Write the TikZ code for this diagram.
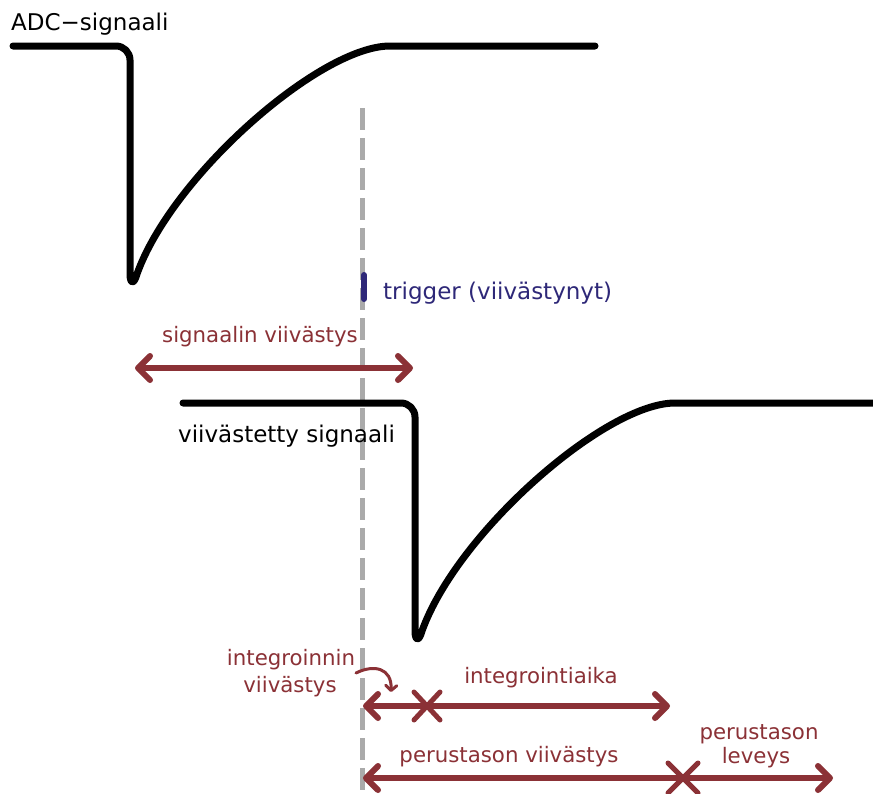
\documentclass[tikz,border=0pt]{standalone}
\usepackage{fontspec}
\setmainfont{DejaVu Sans}
\usetikzlibrary{arrows.meta}
\definecolor{sigred}{RGB}{139,49,54}
\definecolor{trigblue}{RGB}{46,40,120}
\definecolor{dashgray}{RGB}{170,170,170}
\begin{document}
\begin{tikzpicture}[x=1pt,y=-1pt,
  sig/.style={line width=7pt, line cap=round, line join=round},
  dim/.style={sigred, line width=6pt, line cap=round,
    >={Straight Barb[length=12pt,width=24pt,round]}},
  redlbl/.style={text=sigred, font=\fontsize{21.3}{26}\selectfont, inner sep=0pt},
  blklbl/.style={text=black, font=\fontsize{23}{27}\selectfont, inner sep=0pt},
  xmark/.style={sigred, line width=5pt, line cap=round}]
\useasboundingbox (0,0) rectangle (873,793);
\fill[white] (0,0) rectangle (873,793);

% trigger time line
\coordinate (dtop) at (362,108);
\coordinate (dbot) at (362,800);
\draw[dashgray, line width=5pt, dash pattern=on 22pt off 8pt] (dtop) -- (dbot);

% ADC signal
\draw[sig, rounded corners=14pt] (13,46) -- (130,46) -- (130,150) [sharp corners] -- (130,274)
  .. controls (130,284) and (134,285) .. (137,274)
  .. controls (172,176) and (320,46) .. (390,46) -- (595,46);
\node[blklbl, anchor=base west] (adc) at (11,30) {ADC−signaali};

% trigger
\coordinate (tmA) at (364,275);
\coordinate (tmB) at (364,299);
\draw[trigblue, line width=6pt, line cap=round] (tmA) -- (tmB);
\node[text=trigblue, font=\fontsize{23}{27}\selectfont, inner sep=0pt, anchor=base west] (trig) at (383,299) {trigger (viivästynyt)};

% signal delay
\node[redlbl, anchor=base west] (sdlbl) at (162,342) {signaalin viivästys};
\coordinate (sdL) at (135,368);
\coordinate (sdR) at (413,368);
\draw[dim,<->] (sdL) -- (sdR);

% delayed signal
\draw[sig, rounded corners=14pt] (183,403) -- (415,403) -- (415,500) [sharp corners] -- (415,631)
  .. controls (415,641) and (419,642) .. (422,631)
  .. controls (457,533) and (605,403) .. (675,403) -- (880,403);
\node[blklbl, anchor=base west] (vs) at (178,442) {viivästetty signaali};

% integration row
\coordinate (r2L) at (363,706);
\coordinate (r2X) at (427,706);
\coordinate (r2R) at (670,706);
\draw[dim,<->] (r2L) -- (r2R);
\draw[xmark] ([shift={(-13,-14)}]r2X) -- ([shift={(13,14)}]r2X);
\draw[xmark] ([shift={(13,-14)}]r2X) -- ([shift={(-13,14)}]r2X);
\node[redlbl, anchor=base] (iv1) at (291,665) {integroinnin};
\node[redlbl, anchor=base] (iv2) at (290,692) {viivästys};
\coordinate (cA) at (356,673);
\coordinate (cB) at (391,692);
\draw[sigred, line width=3pt, line cap=round, -{Straight Barb[length=5pt,width=11pt,round]}]
  (cA) .. controls (374,664) and (392,668) .. (cB);
\node[redlbl, anchor=base] (ia) at (541,683) {integrointiaika};

% baseline row
\coordinate (r3L) at (363,778);
\coordinate (r3X) at (683,778);
\coordinate (r3R) at (833,778);
\draw[dim,<->] (r3L) -- (r3R);
\draw[xmark] ([shift={(-15,-15)}]r3X) -- ([shift={(15,15)}]r3X);
\draw[xmark] ([shift={(15,-15)}]r3X) -- ([shift={(-15,15)}]r3X);
\node[redlbl, anchor=base] (pv) at (509,762) {perustason viivästys};
\node[redlbl, anchor=base] (pl1) at (759,739) {perustason};
\node[redlbl, anchor=base] (pl2) at (756,763) {leveys};
\end{tikzpicture}
\end{document}
